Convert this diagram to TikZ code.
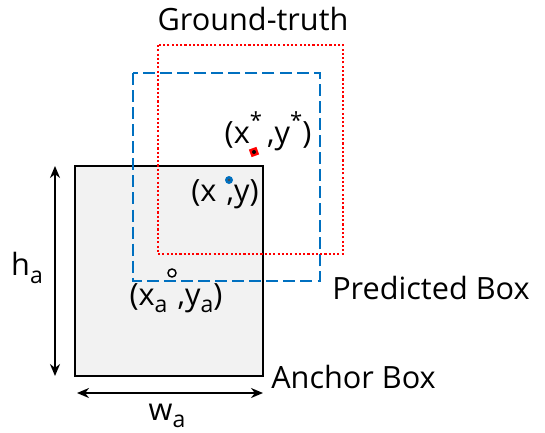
\documentclass[tikz,border=0pt]{standalone}
\usepackage{fontspec}
\setmainfont{Open Sans}
\usetikzlibrary{arrows.meta}
\definecolor{predblue}{RGB}{0,112,192}
\definecolor{anchorfill}{RGB}{242,242,242}
\newcommand{\sbs}[1]{\raisebox{-0.45ex}{\scalebox{0.75}{#1}}}
\newcommand{\sps}[1]{\raisebox{0.9ex}{\scalebox{0.72}{#1}}}
\tikzset{
  anchorbox/.style={draw=black, line width=1.9pt, fill=anchorfill},
  predbox/.style={draw=predblue, line width=2.1pt, dash pattern=on 9pt off 3.8pt},
  gtbox/.style={draw=red, line width=1.9pt, dash pattern=on 1.6pt off 1.6pt},
  lbl/.style={font=\fontsize{23}{27}\selectfont, inner sep=0pt},
  dimarrow/.style={line width=1.8pt, {Stealth[length=9pt,width=7.5pt]}-{Stealth[length=9pt,width=7.5pt]}},
}
\begin{document}
\begin{tikzpicture}[x=0.75pt,y=-0.75pt]
\useasboundingbox (0,0) rectangle (545,432);
% anchor box
\draw[anchorbox] (75,166) rectangle (263,376);
% predicted box
\draw[predbox] (133,73) rectangle (320,281);
% ground truth box
\draw[gtbox] (158,45) rectangle (343,254);
% points
\node[rectangle, fill=red, minimum size=6pt, inner sep=0pt, rotate=20] (gtpt) at (254,152) {};
\fill[black] (gtpt) circle (1.5pt);
\node[circle, fill=predblue, minimum size=6pt, inner sep=0pt] (predpt) at (229,180) {};
\fill[black!70] (predpt) circle (1pt);
\node[circle, draw=black, line width=1.1pt, fill=white, minimum size=6pt, inner sep=0pt] (anchorpt) at (172,273) {};
% labels
\node[lbl] (gtlbl) at (253,19) {Ground-truth};
\node[lbl] (gtpos) at (268,131) {(x\sps{*}\,,y\sps{*})};
\node[lbl] (predpos) at (225,194) {(x\,\,,y)};
\node[lbl] (anchorpos) at (176,298) {(x\sbs{a}\,\,,y\sbs{a})};
\node[lbl, anchor=west] (predlbl) at (332,288) {Predicted Box};
\node[lbl, anchor=west] (anchorlbl) at (271,377) {Anchor Box};
\node[lbl] (hlbl) at (27,268) {h\sbs{a}};
\node[lbl] (wlbl) at (167,416) {w\sbs{a}};
% dimension arrows
\coordinate (htop) at (55,166);
\coordinate (hbot) at (55,376);
\coordinate (wl) at (77,393);
\coordinate (wr) at (263,393);
\draw[dimarrow] (htop) -- (hbot);
\draw[dimarrow] (wl) -- (wr);
\end{tikzpicture}
\end{document}
